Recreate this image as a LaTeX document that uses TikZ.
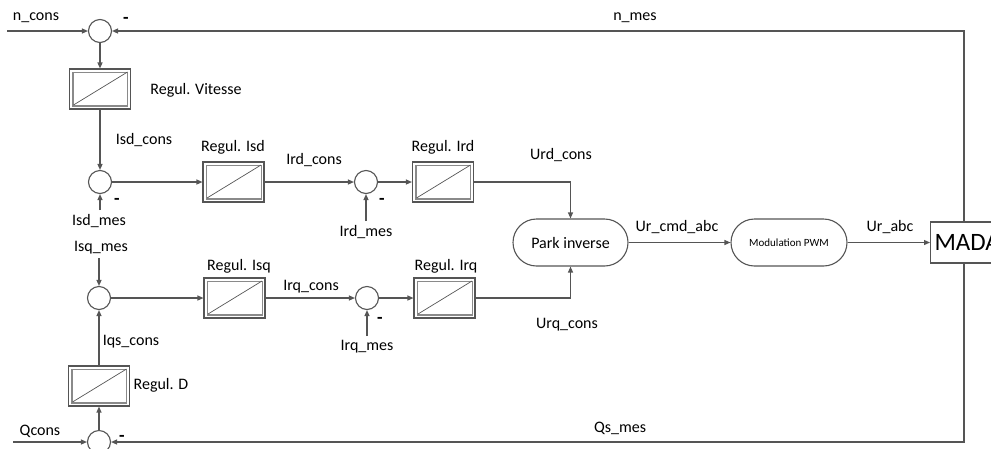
\documentclass[tikz,border=0pt]{standalone}
\usepackage{fontspec}
\setmainfont{Carlito}
\usetikzlibrary{arrows.meta}
\definecolor{lc}{HTML}{555555}
\definecolor{ic}{HTML}{8A8A8A}
\tikzset{
  wire/.style={draw=lc, line width=1.2pt},
  arr/.style={wire, -{Triangle[length=6pt,width=5pt]}},
  sumnode/.style={circle, draw=lc, line width=1.1pt, minimum size=23pt, inner sep=0pt, fill=white},
  regbox/.style={draw=lc, line width=1.1pt, minimum width=61pt, minimum height=40pt, inner sep=0pt,
    path picture={
      \draw[ic, line width=0.6pt] ([shift={(3pt,3pt)}]path picture bounding box.south west) rectangle ([shift={(-3pt,-3pt)}]path picture bounding box.north east);
      \draw[ic, line width=1.4pt] ([shift={(3.5pt,-3pt)}]path picture bounding box.north west) -- ([shift={(3.5pt,3.5pt)}]path picture bounding box.south west) -- ([shift={(-3pt,3.5pt)}]path picture bounding box.south east);
      \draw[lc, line width=0.7pt] ([shift={(4pt,4pt)}]path picture bounding box.south west) -- ([shift={(-3pt,-3pt)}]path picture bounding box.north east);
    }},
  lab/.style={font=\fontsize{16}{18}\selectfont, text=black, inner sep=0pt},
  minus/.style={font=\fontsize{18}{18}\selectfont\bfseries, text=black, inner sep=0pt},
  pill/.style={draw=lc, line width=1.1pt, rounded corners=23.5pt, minimum width=115pt, minimum height=47pt, inner sep=0pt},
  madabox/.style={draw=lc, line width=1.2pt, minimum height=41pt, inner xsep=4pt, inner ysep=0pt, anchor=west, font=\fontsize{25}{28}\selectfont},
}
\begin{document}
\begin{tikzpicture}[x=1pt, y=-1pt]
\useasboundingbox (0,0) rectangle (991,448);
\clip (0,0) rectangle (991,448);

% summing junctions
\node[sumnode] (s1) at (100,31) {};
\node[sumnode] (s2) at (100,182) {};
\node[sumnode] (s5) at (366,182) {};
\node[sumnode] (s3) at (99,298) {};
\node[sumnode] (s6) at (367,298) {};
\node[sumnode] (s4) at (99,442) {};

% regulators
\node[regbox] (rv) at (100,89) {};
\node[regbox] (risd) at (233.5,182) {};
\node[regbox] (rird) at (443,182) {};
\node[regbox] (risq) at (234.5,298) {};
\node[regbox] (rirq) at (444.5,298) {};
\node[regbox] (rd) at (99,386) {};

% other blocks
\node[pill, font=\fontsize{16}{18}\selectfont] (park) at (570.5,242.5) {Park inverse};
\node[pill, minimum width=116pt, font=\fontsize{11}{13}\selectfont] (pwm) at (789,242.5) {Modulation PWM};
\node[madabox] (mada) at (930,242.5) {MADA};

% free ends
\coordinate (ncons) at (7,31);
\coordinate (qcons) at (13,442);
\coordinate (isdmes) at (100,210);
\coordinate (isqmes) at (99,258);
\coordinate (irdmes) at (366,221);
\coordinate (irqmes) at (367,336);
\coordinate (fbT) at (964,222);
\coordinate (fbB) at (964,263);

% connectors
\draw[arr] (ncons) -- (s1.west);
\draw[arr] (s1.south) -- (rv.north);
\draw[arr] (rv.south) -- (s2.north);
\draw[arr] (isdmes) -- (s2.south);
\draw[arr] (s2.east) -- (risd.west);
\draw[arr] (risd.east) -- (s5.west);
\draw[arr] (irdmes) -- (s5.south);
\draw[arr] (s5.east) -- (rird.west);
\draw[arr] (rird.east) -| (park.north);
\draw[arr] (isqmes) -- (s3.north);
\draw[arr] (s3.east) -- (risq.west);
\draw[arr] (risq.east) -- (s6.west);
\draw[arr] (irqmes) -- (s6.south);
\draw[arr] (s6.east) -- (rirq.west);
\draw[arr] (rirq.east) -| (park.south);
\draw[arr] (park.east) -- (pwm.west);
\draw[arr] (pwm.east) -- (mada.west);
\draw[arr] (rd.north) -- (s3.south);
\draw[arr] (s4.north) -- (rd.south);
\draw[arr] (qcons) -- (s4.west);
\draw[arr] (fbT) |- (s1.east);
\draw[arr] (fbB) |- (s4.east);

% labels
\node[lab] (l1) at (36,18) {n\_cons};
\node[minus] (m1) at (126,20) {-};
\node[lab] (l2) at (635,18) {n\_mes};
\node[lab] (l3) at (196,90) {Regul. Vitesse};
\node[lab] (l4) at (144,140) {Isd\_cons};
\node[minus] (m2) at (117,201) {-};
\node[lab] (l5) at (99,221) {Isd\_mes};
\node[lab] (l6) at (101,248) {Isq\_mes};
\node[lab] (l7) at (233,147) {Regul. Isd};
\node[lab] (l8) at (314,160) {Ird\_cons};
\node[minus] (m3) at (382,201) {-};
\node[lab] (l9) at (366,232) {Ird\_mes};
\node[lab] (l10) at (443,147) {Regul. Ird};
\node[lab] (l11) at (561,155) {Urd\_cons};
\node[lab] (l12) at (677,227) {Ur\_cmd\_abc};
\node[lab] (l13) at (890,227) {Ur\_abc};
\node[lab] (l14) at (239,266) {Regul. Isq};
\node[lab] (l15) at (311,287) {Irq\_cons};
\node[minus] (m4) at (380,320) {-};
\node[lab] (l16) at (367,347) {Irq\_mes};
\node[lab] (l17) at (446,266) {Regul. Irq};
\node[lab] (l18) at (567,325) {Urq\_cons};
\node[lab] (l19) at (131,342) {Iqs\_cons};
\node[lab] (l20) at (161,385) {Regul. D};
\node[lab] (l21) at (40,431) {Qcons};
\node[minus] (m5) at (122,438) {-};
\node[lab] (l22) at (620,428) {Qs\_mes};
\end{tikzpicture}
\end{document}
